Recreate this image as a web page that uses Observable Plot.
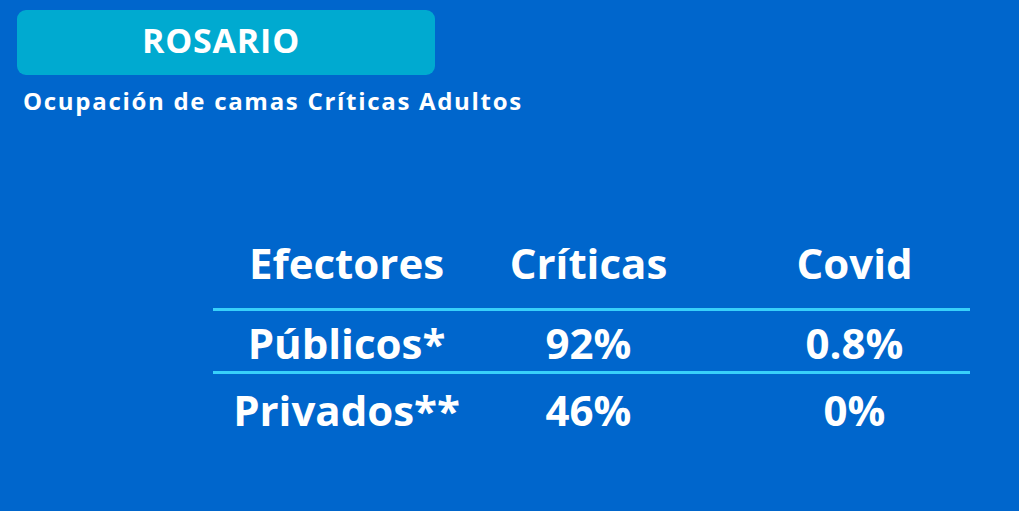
<!DOCTYPE html>
<html>
<head>
<meta charset="utf-8">
<script src="https://cdn.jsdelivr.net/npm/d3@7"></script>
<script src="https://cdn.jsdelivr.net/npm/@observablehq/plot@0.6"></script>
<style>
  html, body { margin: 0; padding: 0; background: #0066cc; width: 1019px; height: 511px; overflow: hidden; }
  body { font-family: "Open Sans", Lato, sans-serif; color: white; }
  #header { position: relative; height: 125px; }
  #title { position: absolute; left: 17px; top: 10px; width: 418px; height: 65px; background: #00aad0; border-radius: 9px;
           font-size: 34px; font-weight: 700; line-height: 61px; letter-spacing: 0.8px; text-align: center; box-sizing: border-box; padding-right: 10px; }
  #subtitle { position: absolute; left: 23px; top: 84px; font-size: 24px; font-weight: 700; line-height: 34px; letter-spacing: 1.7px; white-space: nowrap; }
  svg { display: block; }
</style>
</head>
<body>
<div id="header">
  <div id="title"></div>
  <div id="subtitle"></div>
</div>
<div id="chart"></div>
<script>
const titleText = "ROSARIO";
const subtitleText = "Ocupación de camas Críticas Adultos";
const columns = ["Efectores", "Críticas", "Covid"];
const efectores = ["Públicos*", "Privados**"];
const criticas = ["92%", "46%"];
const covid = ["0.8%", "0%"];
const ruleRows = [0.5, 1.5];

document.getElementById("title").textContent = titleText;
document.getElementById("subtitle").textContent = subtitleText;

const cells = [];
columns.forEach((c, j) => cells.push({col: j, row: 0, label: c}));
efectores.forEach((e, i) => {
  cells.push({col: 0, row: i + 1, label: e});
  cells.push({col: 1, row: i + 1, label: criticas[i]});
  cells.push({col: 2, row: i + 1, label: covid[i]});
});

const chart = Plot.plot({
  width: 1019,
  height: 386,
  margin: 0,
  marginLeft: 213,
  marginRight: 49,
  x: {type: "linear", domain: [0, 1, 2], range: [346, 588, 854], axis: null},
  y: {type: "linear", domain: [0, 0.5, 1, 1.5, 2], range: [153, 184, 233, 247, 300], axis: null},
  style: {background: "transparent", fontFamily: "'Open Sans', Lato, sans-serif", color: "white"},
  marks: [
    Plot.ruleY(ruleRows, {y: d => d, stroke: "#38d0fa", strokeWidth: 3}),
    Plot.text(cells, {x: "col", y: "row", text: "label", fontSize: 42, fontWeight: 700, fill: "white", lineAnchor: "bottom", textAnchor: "middle"})
  ]
});
document.getElementById("chart").appendChild(chart);
</script>
</body>
</html>
